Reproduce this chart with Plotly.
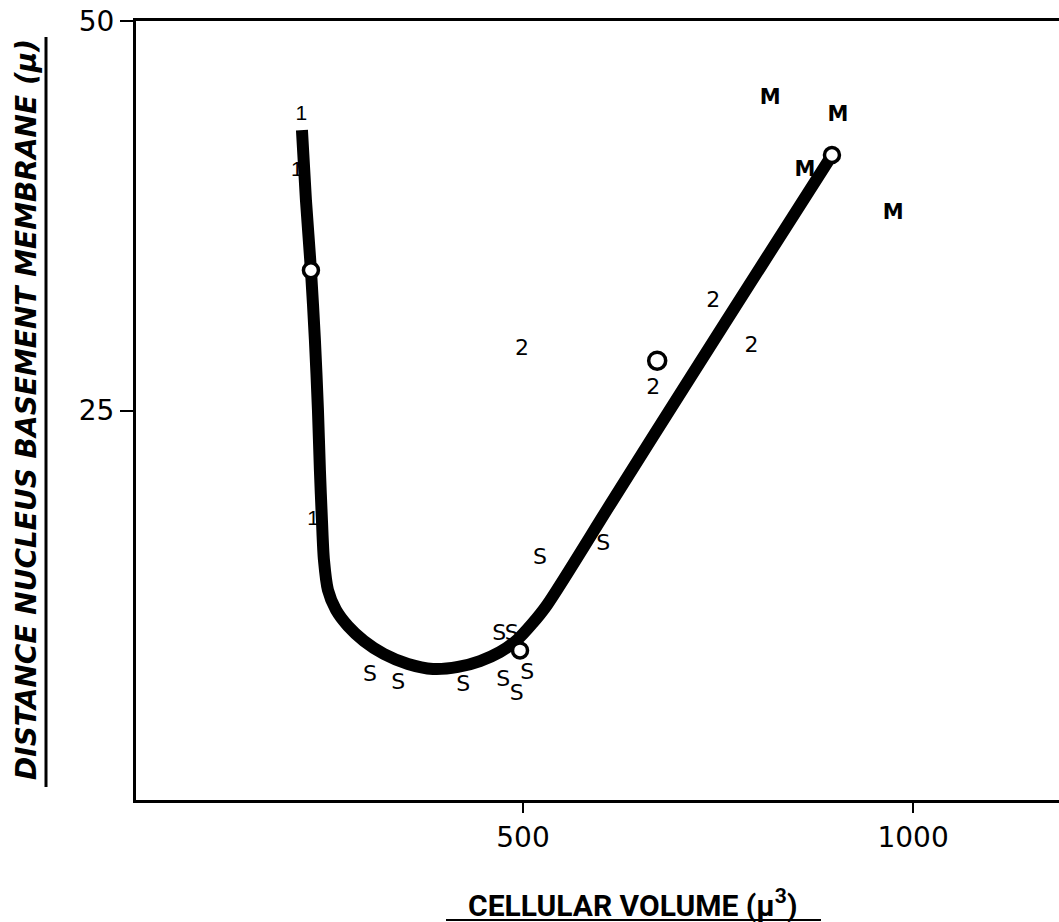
import plotly.graph_objects as go

# ---- data ----
curve_x = [216.7, 221.8, 228.2, 233.3, 237.2, 239.7, 242.3, 244.9, 250.0, 260.3, 275.6, 296.2,
           321.8, 352.6, 384.6, 416.7, 444.9, 470.5, 492.3, 511.5, 530.8, 615.4, 714.1, 803.8, 896.2]
curve_y = [43.00, 38.51, 34.02, 29.53, 25.03, 21.18, 17.97, 15.40, 13.48, 12.20, 11.17, 10.21,
           9.37, 8.73, 8.41, 8.54, 8.92, 9.50, 10.27, 11.30, 12.52, 19.26, 27.09, 34.15, 41.40]

mean_x = [228.2, 496.2, 672.0, 896.0]
mean_y = [34.0, 9.6, 28.2, 41.4]
mean_size = [15, 15, 17, 15]

ones_x = [216.0, 210.0, 231.0]
ones_y = [44.0, 40.4, 18.0]

s_x = [303.8, 340.0, 423.5, 474.8, 491.9, 505.5, 469.6, 485.5, 521.8, 603.0]
s_y = [8.02, 7.45, 7.38, 7.70, 6.74, 8.15, 10.65, 10.65, 15.5, 16.4]

two_x = [498.7, 667.0, 744.0, 793.0]
two_y = [28.9, 26.4, 32.0, 29.1]

m_x = [816.7, 903.8, 861.5, 974.4]
m_y = [45.0, 43.9, 40.4, 37.6]

x_ticks = [500, 1000]
y_ticks = [25, 50]

x_title = "CELLULAR VOLUME (\u03bc<sup>3</sup>)"
y_title = "DISTANCE NUCLEUS BASEMENT MEMBRANE (\u03bc)"

TICK_FONT = "DejaVu Sans"
LAB_FONT = "DejaVu Sans"

fig = go.Figure()

lab_font = dict(family=LAB_FONT, size=22, color="black")
fig.add_trace(go.Scatter(x=ones_x, y=ones_y, mode="text", text=["1"] * len(ones_x),
                         textfont=dict(family="Liberation Sans Narrow, Liberation Sans", size=21, color="black"),
                         hoverinfo="skip", showlegend=False))
fig.add_trace(go.Scatter(x=s_x, y=s_y, mode="text", text=["S"] * len(s_x),
                         textfont=lab_font, hoverinfo="skip", showlegend=False))
fig.add_trace(go.Scatter(x=two_x, y=two_y, mode="text", text=["2"] * len(two_x),
                         textfont=lab_font, hoverinfo="skip", showlegend=False))
fig.add_trace(go.Scatter(x=m_x, y=m_y, mode="text", text=["<b>M</b>"] * len(m_x),
                         textfont=dict(family=LAB_FONT, size=21, color="black"),
                         hoverinfo="skip", showlegend=False))

fig.add_trace(go.Scatter(x=curve_x, y=curve_y, mode="lines",
                         line=dict(color="black", width=12, shape="spline", smoothing=0.8),
                         hoverinfo="skip", showlegend=False))

fig.add_trace(go.Scatter(x=mean_x, y=mean_y, mode="markers", opacity=1,
                         marker=dict(symbol="circle", size=mean_size, color="#ffffff", opacity=1,
                                     line=dict(color="#000000", width=3.5)),
                         hoverinfo="skip", showlegend=False))

L, T, B = 136, 21, 122
W, H = 1059, 922
pw = W - L
ph = H - T - B


def px(xp):
    return (xp - L) / pw


def py(yp):
    return (H - B - yp) / ph


fig.update_layout(
    width=W, height=H,
    margin=dict(l=L, r=0, t=T, b=B),
    paper_bgcolor="white", plot_bgcolor="white",
    xaxis=dict(range=[4, 1187], tickvals=x_ticks, ticktext=[str(v) for v in x_ticks],
               showgrid=False, zeroline=False, showline=True, linecolor="black", linewidth=3,
               mirror=True, ticks="outside", ticklen=10, tickwidth=2, tickcolor="black",
               tickfont=dict(family=TICK_FONT, size=28, color="black")),
    yaxis=dict(range=[0, 50], tickvals=y_ticks, ticktext=[str(v) for v in y_ticks],
               showgrid=False, zeroline=False, showline=True, linecolor="black", linewidth=3,
               ticks="outside", ticklen=13, tickwidth=2, tickcolor="black",
               tickfont=dict(family=TICK_FONT, size=28, color="black")),
    annotations=[
        dict(text="<b>" + x_title + "</b>", xref="paper", yref="paper",
             x=px(632), y=py(903), showarrow=False, xanchor="center", yanchor="middle",
             font=dict(family="Roboto", size=30, color="black")),
        dict(text="<b><i>" + y_title + "</i></b>", xref="paper", yref="paper",
             x=px(26), y=py(410), showarrow=False, xanchor="center", yanchor="middle",
             textangle=-90, font=dict(family="DejaVu Sans", size=28, color="black")),
    ],
    shapes=[
        dict(type="line", xref="paper", yref="paper", x0=px(446), x1=px(821),
             y0=py(920), y1=py(920), line=dict(color="black", width=2)),
        dict(type="line", xref="paper", yref="paper", x0=px(46), x1=px(46),
             y0=py(37), y1=py(787), line=dict(color="black", width=3)),
    ],
)

fig.write_html("out.html")
